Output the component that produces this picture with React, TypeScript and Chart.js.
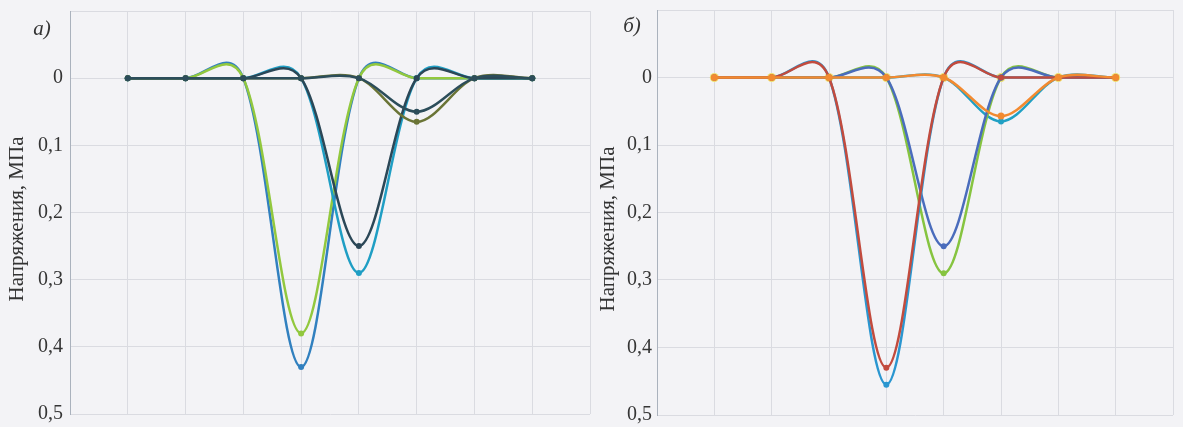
import React, { useEffect, useRef } from 'react';
import { Chart, registerables } from 'chart.js';

Chart.register(...registerables);

// Load positions (x) shared by both panels
const positions = [1, 2, 3, 4, 5, 6, 7, 8];

const yTitle = 'Напряжения, МПа';
const panelLabelA = 'а)';
const panelLabelB = 'б)';

// Panel а) series, stresses in MPa (listed bottom -> top in drawing order)
const aBlue = [0, 0, 0, 0.43, 0, 0, 0, 0];
const aGreen = [0, 0, 0, 0.38, 0, 0, 0, 0];
const aCyan = [0, 0, 0, 0, 0.29, 0, 0, 0];
const aNavy = [0, 0, 0, 0, 0.25, 0, 0, 0];
const aOlive = [0, 0, 0, 0, 0, 0.065, 0, 0];
const aDark = [0, 0, 0, 0, 0, 0.05, 0, 0];

// Panel б) series
const bYellow = [0, 0, 0, 0, 0, 0, 0, 0];
const bCyan = [0, 0, 0, 0, 0, 0.065, 0, 0];
const bGreen = [0, 0, 0, 0, 0.29, 0, 0, 0];
const bBlue = [0, 0, 0, 0, 0.25, 0, 0, 0];
const bSky = [0, 0, 0, 0.455, 0, 0, 0, 0];
const bRed = [0, 0, 0, 0.43, 0, 0, 0, 0];
const bOrange = [0, 0, 0, 0, 0, 0.057, 0, 0];

const FONT = '"Liberation Serif", "Times New Roman", serif';
const GRID = '#dadbe1';

type SeriesDef = { data: number[]; color: string; radius?: number; line?: boolean };

const panelA: SeriesDef[] = [
  { data: aBlue, color: '#3180bf' },
  { data: aGreen, color: '#92c83e' },
  { data: aCyan, color: '#1f9ec4' },
  { data: aNavy, color: '#2b4757' },
  { data: aOlive, color: '#6a7436' },
  { data: aDark, color: '#2c4d5a' },
];

const panelB: SeriesDef[] = [
  { data: bYellow, color: '#efe070', radius: 4.5, line: false },
  { data: bCyan, color: '#20a0c4' },
  { data: bGreen, color: '#86c440' },
  { data: bBlue, color: '#4a6cbc' },
  { data: bSky, color: '#2a96d0' },
  { data: bRed, color: '#c24b3e' },
  { data: bOrange, color: '#f28a30', radius: 3.5 },
];

// Spreadsheet-style smoothing: Catmull-Rom-like control points computed
// from the pixel positions that the chart's scales gave each point.
const SMOOTH_K = 1 / 6;
const SMOOTH_P = 0.35;
const smoothPlugin = {
  id: 'sheetSmooth',
  afterDatasetsUpdate(chart: any) {
    chart.data.datasets.forEach((_d: any, di: number) => {
      const meta = chart.getDatasetMeta(di);
      const pts = meta.data as any[];
      for (let i = 0; i < pts.length; i++) {
        const p1 = pts[i];
        const p0 = pts[i - 1] || p1;
        const p2 = pts[i + 1] || p1;
        const d01 = Math.hypot(p1.x - p0.x, p1.y - p0.y);
        const d12 = Math.hypot(p2.x - p1.x, p2.y - p1.y);
        const w01 = d01 > 0 ? Math.pow(d01, SMOOTH_P) : 0;
        const w12 = d12 > 0 ? Math.pow(d12, SMOOTH_P) : 0;
        const sum = w01 + w12 || 1;
        const fa = (2 * SMOOTH_K * w01) / sum;
        const fb = (2 * SMOOTH_K * w12) / sum;
        const dx = p2.x - p0.x;
        const dy = p2.y - p0.y;
        p1.cp1x = p1.x - fa * dx;
        p1.cp1y = p1.y - fa * dy;
        p1.cp2x = p1.x + fb * dx;
        p1.cp2y = p1.y + fb * dy;
      }
      if (meta.dataset) meta.dataset._pointsUpdated = true;
    });
  },
};

// Italic panel letter and the rotated y-axis caption
const textPlugin = {
  id: 'panelText',
  afterDraw(chart: any, _args: any, opts: any) {
    const { ctx } = chart;
    ctx.save();
    ctx.fillStyle = '#333333';
    ctx.textAlign = 'center';
    ctx.textBaseline = 'middle';
    ctx.font = `italic 21px ${FONT}`;
    ctx.fillText(opts.label, opts.labelX, opts.labelY);
    ctx.translate(opts.titleX, opts.titleY);
    ctx.rotate(-Math.PI / 2);
    ctx.font = `21px ${FONT}`;
    ctx.fillText(opts.title, 0, 0);
    ctx.restore();
  },
};

type PanelProps = {
  series: SeriesDef[];
  left: number;
  width: number;
  padding: { left: number; right: number; top: number; bottom: number };
  axisWidth: number;
  tickPadding: number;
  label: string;
  labelX: number;
  labelY: number;
  titleX: number;
  titleY: number;
};

function Panel(props: PanelProps) {
  const ref = useRef<HTMLCanvasElement | null>(null);
  useEffect(() => {
    if (!ref.current) return;
    const n = props.series.length;
    const chart = new Chart(ref.current, {
      type: 'line',
      data: {
        datasets: props.series.map((s, i) => ({
          data: positions.map((x, j) => ({ x, y: s.data[j] })),
          order: n - 1 - i,
          showLine: s.line ?? true,
          borderColor: s.color,
          backgroundColor: s.color,
          pointBackgroundColor: s.color,
          pointBorderWidth: 0,
          pointRadius: s.radius ?? 3,
          borderWidth: 2.5,
          tension: 0.4,
          fill: false,
        })),
      },
      options: {
        animation: false,
        responsive: true,
        maintainAspectRatio: false,
        layout: { padding: props.padding },
        plugins: {
          legend: { display: false },
          tooltip: { enabled: false },
          panelText: {
            label: props.label,
            labelX: props.labelX,
            labelY: props.labelY,
            title: yTitle,
            titleX: props.titleX,
            titleY: props.titleY,
          },
        } as any,
        scales: {
          x: {
            type: 'linear',
            min: 0,
            max: 9,
            ticks: { display: false, stepSize: 1 },
            grid: { color: GRID, drawTicks: false },
            border: { display: false },
          },
          y: {
            type: 'linear',
            reverse: true,
            min: -0.1,
            max: 0.5,
            ticks: {
              stepSize: 0.1,
              padding: props.tickPadding,
              color: '#353535',
              font: { family: FONT, size: 20 },
              callback: (v: any) => {
                const r = Math.round(Number(v) * 10) / 10;
                return r < 0 ? '' : String(r).replace('.', ',');
              },
            },
            grid: { color: GRID, drawTicks: false },
            border: { color: '#aab2bd', width: 1 },
            title: { display: false },
            afterFit: (s: any) => {
              s.width = props.axisWidth;
              s.paddingTop = 0;
              s.paddingBottom = 0;
            },
          },
        },
      },
      plugins: [smoothPlugin, textPlugin],
    });
    return () => chart.destroy();
  }, []);
  return (
    <div style={{ position: 'absolute', left: props.left, top: 0, width: props.width, height: 440 }}>
      <canvas ref={ref} />
    </div>
  );
}

export default function App() {
  return (
    <div
      style={{
        position: 'fixed',
        left: 0,
        top: 0,
        width: 1183,
        height: 440,
        background: '#f3f3f6',
        overflow: 'hidden',
      }}
    >
      <Panel
        series={panelA}
        left={0}
        width={596}
        padding={{ left: 5, right: 6, top: 11, bottom: 26 }}
        axisWidth={65}
        tickPadding={7}
        label={panelLabelA}
        labelX={42}
        labelY={29}
        titleX={17}
        titleY={219}
      />
      <Panel
        series={panelB}
        left={596}
        width={587}
        padding={{ left: 0, right: 10, top: 10, bottom: 25 }}
        axisWidth={61}
        tickPadding={5}
        label={panelLabelB}
        labelX={36}
        labelY={26}
        titleX={12}
        titleY={229}
      />
    </div>
  );
}
